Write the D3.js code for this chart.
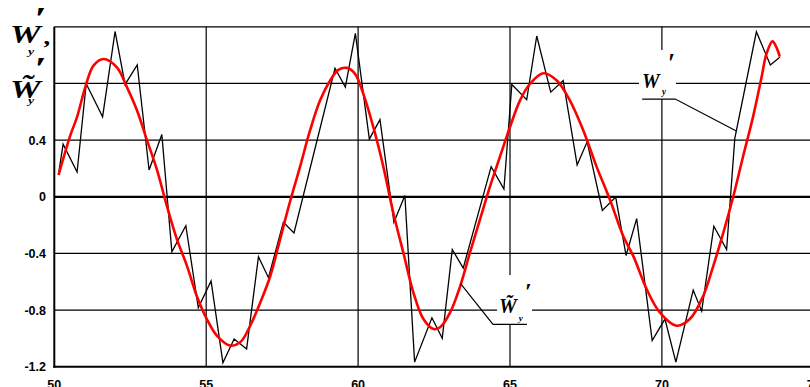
<!DOCTYPE html>
<html>
<head>
<meta charset="utf-8">
<script src="https://cdn.jsdelivr.net/npm/d3@7/dist/d3.min.js"></script>
<style>
  html, body { margin: 0; padding: 0; background: #fff; overflow: hidden; }
  svg { display: block; }
  .tick-label { font-family: "Liberation Sans", Arial, sans-serif; font-weight: bold; font-size: 12.5px; fill: #000; }
  .sym { font-family: "Liberation Serif", "Times New Roman", serif; font-style: italic; font-weight: bold; fill: #000; }
</style>
</head>
<body>
<svg id="chart" width="810" height="387"></svg>
<script>
// Axis extents and tick values
const xDomain = [50, 75];
const yDomain = [-1.2, 1.2];
const xTicks = [50, 55, 60, 65, 70, 75];
const yGridTicks = [-0.8, -0.4, 0.4, 0.8];
const yLabelTicks = [-1.2, -0.8, -0.4, 0, 0.4];
const xTickLabels = ["50", "55", "60", "65", "70", "75"];
const yTickLabels = ["-1.2", "-0.8", "-0.4", "0", "0.4"];

// Measured series W'_y (black)
const rawX = [50.14, 50.29, 50.75, 51.05, 51.59, 52.00, 52.33, 52.73, 53.12, 53.54,
              53.87, 54.33, 54.74, 55.16, 55.55, 55.92, 56.33, 56.72, 57.05, 57.54,
              57.89, 59.24, 59.58, 59.91, 60.37, 60.72, 61.18, 61.54, 61.86, 62.43,
              62.77, 63.10, 63.46, 64.38, 64.80, 65.06, 65.55, 65.88, 66.34, 66.75,
              67.21, 67.54, 68.04, 68.48, 68.82, 69.17, 69.68, 70.10, 70.46, 71.03,
              71.31, 71.71, 72.13, 72.40, 73.11, 73.57, 73.88];
const rawY = [0.161, 0.372, 0.175, 0.798, 0.564, 1.167, 0.793, 0.931, 0.189, 0.440,
              -0.388, -0.204, -0.784, -0.594, -1.172, -1.004, -1.074, -0.423, -0.571, -0.180,
              -0.255, 0.907, 0.774, 1.153, 0.407, 0.545, -0.180, 0.009, -1.167, -0.854,
              -0.999, -0.372, -0.503, 0.213, 0.054, 0.793, 0.686, 1.135, 0.739, 0.821,
              0.225, 0.388, -0.096, -0.002, -0.414, -0.154, -1.015, -0.863, -1.167, -0.658,
              -0.807, -0.208, -0.372, 0.412, 1.165, 0.931, 0.985];

// Smoothed series W~'_y (red)
const fitX = [50.14, 50.53, 50.75, 51.02, 51.29, 51.62, 52.06, 52.39, 52.72, 53.05,
              53.38, 53.71, 54.04, 54.37, 54.69, 55.02, 55.35, 55.79, 56.12, 56.45,
              56.78, 57.11, 57.43, 57.76, 58.09, 58.42, 58.75, 59.08, 59.35, 59.63,
              59.90, 60.17, 60.50, 60.83, 61.16, 61.49, 61.82, 62.15, 62.48, 62.70,
              63.03, 63.36, 63.68, 64.01, 64.34, 64.67, 65.00, 65.33, 65.66, 66.10,
              66.54, 66.97, 67.41, 67.85, 68.29, 68.73, 69.06, 69.50, 69.93, 70.48,
              70.92, 71.36, 71.69, 72.02, 72.35, 72.67, 73.00, 73.28, 73.44, 73.64,
              73.77, 73.88];
const fitY = [0.154, 0.435, 0.564, 0.774, 0.926, 0.973, 0.914, 0.774, 0.611, 0.400,
              0.190, -0.068, -0.302, -0.489, -0.700, -0.863, -0.980, -1.050, -1.027, -0.910,
              -0.746, -0.559, -0.302, -0.033, 0.213, 0.470, 0.681, 0.821, 0.896, 0.910,
              0.868, 0.728, 0.493, 0.213, -0.114, -0.395, -0.676, -0.863, -0.933, -0.921,
              -0.816, -0.630, -0.395, -0.161, 0.072, 0.283, 0.493, 0.681, 0.798, 0.872,
              0.821, 0.681, 0.470, 0.213, -0.021, -0.279, -0.419, -0.653, -0.816, -0.910,
              -0.863, -0.700, -0.489, -0.255, 0.002, 0.283, 0.564, 0.844, 1.008, 1.097,
              1.055, 0.989];

const svg = d3.select("#chart");
const x = d3.scaleLinear().domain(xDomain).range([54.3, 813.8]);
const y = d3.scaleLinear().domain(yDomain).range([366.8, 26.8]);
const W = 810;

const raw = rawX.map((v, i) => [v, rawY[i]]);
const fit = fitX.map((v, i) => [v, fitY[i]]);

// Grid
const grid = svg.append("g").attr("stroke", "#000").attr("fill", "none");
xTicks.slice(1).forEach(t => {
  grid.append("line").attr("x1", x(t)).attr("x2", x(t))
    .attr("y1", y(yDomain[0])).attr("y2", y(yDomain[1])).attr("stroke-width", 1.2);
});
yGridTicks.forEach(t => {
  grid.append("line").attr("x1", x(xDomain[0])).attr("x2", W)
    .attr("y1", y(t)).attr("y2", y(t)).attr("stroke-width", 1.2);
});
// frame top
grid.append("line").attr("x1", x(xDomain[0])).attr("x2", W)
  .attr("y1", y(yDomain[1])).attr("y2", y(yDomain[1])).attr("stroke-width", 1.3);
// zero line
grid.append("line").attr("x1", x(xDomain[0])).attr("x2", W)
  .attr("y1", y(0)).attr("y2", y(0)).attr("stroke-width", 2.3);
// bottom axis
grid.append("line").attr("x1", x(xDomain[0]) - 1).attr("x2", W)
  .attr("y1", y(yDomain[0])).attr("y2", y(yDomain[0])).attr("stroke-width", 2);
// left axis
grid.append("line").attr("x1", x(xDomain[0])).attr("x2", x(xDomain[0]))
  .attr("y1", y(yDomain[0]) + 1).attr("y2", y(yDomain[1])).attr("stroke-width", 2);

// Tick labels
svg.append("g").selectAll("text").data(yLabelTicks).join("text")
  .attr("class", "tick-label")
  .attr("x", 46).attr("y", d => y(d)).attr("dy", "0.36em")
  .attr("text-anchor", "end")
  .text((d, i) => yTickLabels[i]);
svg.append("g").selectAll("text").data(xTicks).join("text")
  .attr("class", "tick-label")
  .attr("x", d => x(d)).attr("y", 389)
  .attr("text-anchor", "middle")
  .text((d, i) => xTickLabels[i]);

// White boxes behind the in-plot labels
svg.append("rect").attr("x", 639).attr("y", 50).attr("width", 37).attr("height", 49).attr("fill", "#fff");
svg.append("rect").attr("x", 497).attr("y", 275).attr("width", 35).attr("height", 49).attr("fill", "#fff");

// Series
const line = d3.line().x(d => x(d[0])).y(d => y(d[1]));
svg.append("path").datum(raw)
  .attr("d", line)
  .attr("fill", "none").attr("stroke", "#000").attr("stroke-width", 1.3)
  .attr("stroke-linejoin", "miter");
svg.append("path").datum(fit)
  .attr("d", line.curve(d3.curveCatmullRom.alpha(0.5)))
  .attr("fill", "none").attr("stroke", "#f00").attr("stroke-width", 2.6)
  .attr("stroke-linejoin", "round");

// Linear lookup on a series
function valueAt(xs, ys, xv) {
  const i = d3.bisectLeft(xs, xv);
  if (i <= 0) return ys[0];
  if (i >= xs.length) return ys[ys.length - 1];
  const t = (xv - xs[i - 1]) / (xs[i] - xs[i - 1]);
  return ys[i - 1] + t * (ys[i] - ys[i - 1]);
}

// Leader lines
function leader(x0, x1, yv, xs, ys, xt) {
  const yt = valueAt(xs, ys, xt);
  svg.append("polyline")
    .attr("points", [[x(x0), y(yv)], [x(x1), y(yv)], [x(xt), y(yt)]].map(p => p.join(",")).join(" "))
    .attr("fill", "none").attr("stroke", "#000").attr("stroke-width", 1.2);
}
leader(69.35, 70.44, 0.69, rawX, rawY, 72.45);
leader(65.56, 64.44, -0.90, fitX, fitY, 63.38);

// Symbol W with optional tilde, subscript y, prime and trailing comma, as one text element
function symbol(o) {
  const t = svg.append("text").attr("class", "sym")
    .attr("transform", `translate(${o.x},${o.y}) scale(${o.sx},1)`)
    .attr("font-size", o.size);
  t.append("tspan").text(o.tilde ? "W\u0303" : "W");
  t.append("tspan").attr("dx", o.subDx).attr("dy", o.subDy)
    .attr("font-size", o.subSize).text("y");
  t.append("tspan").attr("dx", o.prDx).attr("dy", o.prDy)
    .attr("font-size", o.prSize).text("\u2032");
  if (o.comma) {
    t.append("tspan").attr("dx", o.comma.dx).attr("dy", o.comma.dy)
      .attr("font-size", o.comma.size).text(",");
  }
  return t;
}

// y-axis title: W'_y , W~'_y
symbol({x: 10, y: 43, sx: 1.38, size: 25, tilde: false,
        subDx: -9.2, subDy: 12, subSize: 10, prDx: 0, prDy: -26, prSize: 32,
        comma: {dx: -1.5, dy: 15, size: 20}});
symbol({x: 10, y: 98, sx: 1.38, size: 25, tilde: true,
        subDx: -9.2, subDy: 6, subSize: 10, prDx: 0, prDy: -25, prSize: 32});

// in-plot labels
symbol({x: 642, y: 88, sx: 0.9, size: 22, tilde: false,
        subDx: 2.7, subDy: 7, subSize: 10, prDx: 2, prDy: -23, prSize: 28});
symbol({x: 499, y: 313, sx: 1, size: 20, tilde: true,
        subDx: 2, subDy: 8, subSize: 9, prDx: 2, prDy: -22, prSize: 24});
</script>
</body>
</html>
